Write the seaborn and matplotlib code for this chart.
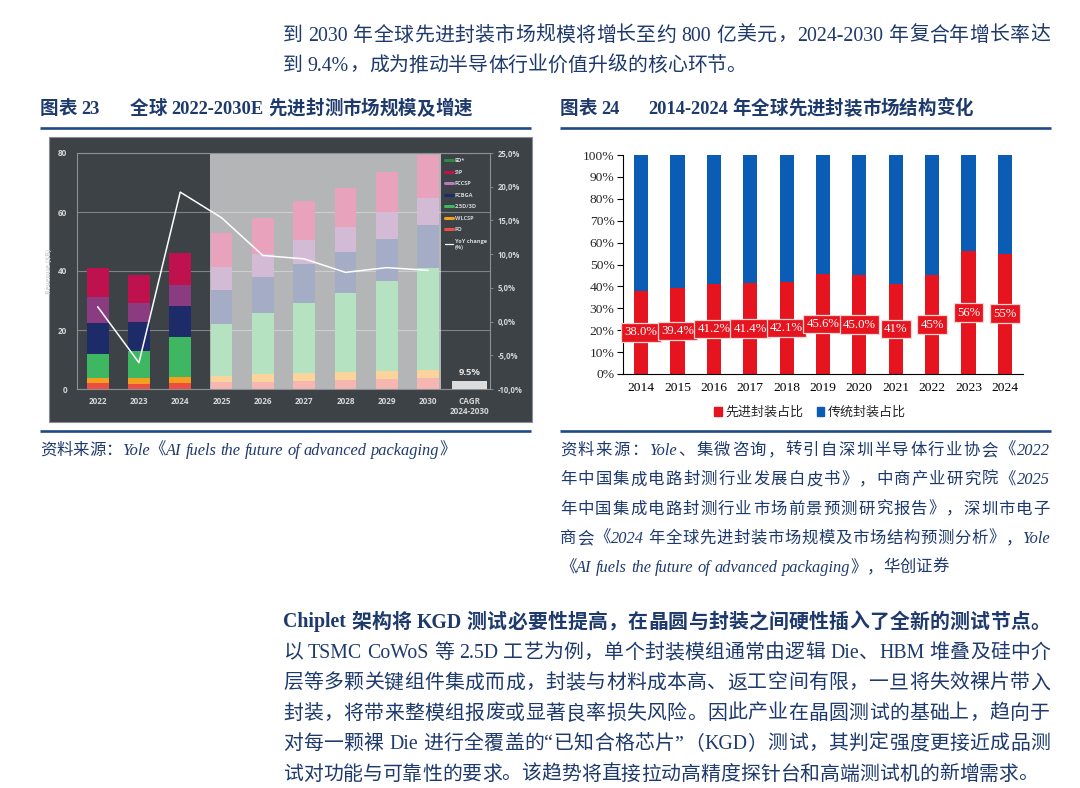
import numpy as np
import matplotlib
matplotlib.use("Agg")
import matplotlib.pyplot as plt
from matplotlib.lines import Line2D
from matplotlib.patches import Patch, Rectangle
import seaborn as sns

# ---- figure 23: global advanced packaging market, $B ----
MARKET_YEARS = ["2022", "2023", "2024", "2025", "2026", "2027", "2028", "2029", "2030"]
FO = [1.9, 1.8, 1.9, 2.3, 2.5, 2.7, 3.1, 3.4, 3.6]
WLCSP = [1.8, 1.8, 2.2, 2.1, 2.5, 2.6, 2.8, 2.8, 2.8]
PKG_25D_3D = [8.3, 9.4, 13.5, 17.8, 20.6, 23.8, 26.5, 30.5, 34.6]
FCBGA = [10.3, 9.6, 10.6, 11.5, 12.2, 13.2, 14.1, 14.2, 14.7]
FCCSP = [8.8, 6.5, 7.1, 7.5, 7.9, 8.3, 8.5, 9.1, 9.2]
SIP = [9.9, 9.6, 10.7, 11.6, 12.4, 13.0, 13.1, 13.5, 14.5]
YOY_CHANGE = [2.2, -6.1, 19.2, 15.4, 9.8, 9.3, 7.3, 8.0, 7.6]
CAGR_TEXT = "9.5%"
CAGR_BLOCK = [1.2]  # grey block height on the % axis
N_ACTUAL = 3  # 2022-2024 actual, rest forecast

# ---- figure 24: market structure, % ----
SHARE_YEARS = ["2014", "2015", "2016", "2017", "2018", "2019", "2020", "2021", "2022", "2023", "2024"]
ADVANCED_SHARE = [38.0, 39.4, 41.2, 41.4, 42.1, 45.6, 45.0, 41, 45, 56, 55]
TRADITIONAL_SHARE = [62.0, 60.6, 58.8, 58.6, 57.9, 54.4, 55.0, 59, 55, 44, 45]
SHARE_LABELS = ["38.0%", "39.4%", "41.2%", "41.4%", "42.1%", "45.6%", "45.0%", "41%", "45%", "56%", "55%"]

TOP_LINES = [
    "到 2030 年全球先进封装市场规模将增长至约 800 亿美元，2024-2030 年复合年增长率达",
    "到 9.4%，成为推动半导体行业价值升级的核心环节。",
]
SOURCE_LEFT = "资料来源：Yole《AI fuels the future of advanced packaging》"
SOURCE_RIGHT = [
    "资料来源：Yole、集微咨询，转引自深圳半导体行业协会《2022",
    "年中国集成电路封测行业发展白皮书》，中商产业研究院《2025",
    "年中国集成电路封测行业市场前景预测研究报告》，深圳市电子",
    "商会《2024 年全球先进封装市场规模及市场结构预测分析》，Yole",
    "《AI fuels the future of advanced packaging》，华创证券",
]
BODY_LINES = [
    "Chiplet 架构将 KGD 测试必要性提高，在晶圆与封装之间硬性插入了全新的测试节点。",
    "以 TSMC CoWoS 等 2.5D 工艺为例，单个封装模组通常由逻辑 Die、HBM 堆叠及硅中介",
    "层等多颗关键组件集成而成，封装与材料成本高、返工空间有限，一旦将失效裸片带入",
    "封装，将带来整模组报废或显著良率损失风险。因此产业在晶圆测试的基础上，趋向于",
    "对每一颗裸 Die 进行全覆盖的“已知合格芯片”（KGD）测试，其判定强度更接近成品测",
    "试对功能与可靠性的要求。该趋势将直接拉动高精度探针台和高端测试机的新增需求。",
]

NAVY = "#1e3a6d"
RULE = "#1f4a86"
DARK_BG = "#3c4246"
FRAME = "#8d9195"
LIGHT_TXT = "#d3d5d7"
RED = "#e5141f"
BLUE = "#0a5cb5"

sns.set_style("white")
plt.rcParams["font.family"] = ["Liberation Serif", "Noto Sans CJK SC"]
SANS = ["Open Sans", "DejaVu Sans"]

fig = plt.figure(figsize=(10.8, 7.88), dpi=100)
page = fig.add_axes([0, 0, 1, 1], zorder=0)
page.set_xlim(0, 1080)
page.set_ylim(788, 0)
page.axis("off")
rend = fig.canvas.get_renderer()


def put_text(text, x0, y, x1=None, size=14.3, **kw):
    """Lay a line out token by token; stretch it to x1 when given (justified)."""
    tokens, buf, buf_sp, sp = [], "", False, False
    for ch in text:
        if ch.isspace():
            if buf:
                tokens.append((buf, buf_sp))
                buf = ""
            sp = True
        elif ord(ch) > 0x2000:
            if buf:
                tokens.append((buf, buf_sp))
                buf = ""
            tokens.append((ch, sp))
            sp = False
        else:
            if not buf:
                buf_sp, sp = sp, False
            buf += ch
    if buf:
        tokens.append((buf, buf_sp))

    arts = [page.text(0, y, s, fontsize=size, color=NAVY, va="baseline", ha="left", **kw)
            for s, _ in tokens]
    widths = [a.get_window_extent(rend).width for a in arts]
    space_w = 0.25 * size * 100 / 72
    gaps = [space_w if s else 0.0 for _, s in tokens[1:]]
    extra = 0.0
    if x1 is not None and len(arts) > 1:
        extra = (x1 - x0 - sum(widths) - sum(gaps)) / (len(arts) - 1)
    x = x0
    for i, a in enumerate(arts):
        if i:
            x += gaps[i - 1] + extra
        a.set_x(x)
        x += widths[i]


# ---- page text ----
put_text(TOP_LINES[0], 283, 40.5, x1=1050)
put_text(TOP_LINES[1], 283, 70.5)

put_text("图表 23", 40, 114, size=13.3, weight="bold")
put_text("全球 2022-2030E 先进封测市场规模及增速", 130, 114, size=13.3, weight="bold")
put_text("图表 24", 560, 114, size=13.3, weight="bold")
put_text("2014-2024 年全球先进封装市场结构变化", 648, 114, size=13.3, weight="bold")

for x0, x1, y in [(40, 531, 128), (560, 1051, 128), (40, 531, 430.5), (560, 1051, 430.5)]:
    page.plot([x0, x1], [y, y], color=RULE, lw=1.9, solid_capstyle="butt")

put_text(SOURCE_LEFT, 40, 455, size=11.8, style="italic")
for i, line in enumerate(SOURCE_RIGHT):
    put_text(line, 560, 455 + i * 29.3, x1=1050 if i < 4 else None, size=11.8, style="italic")

for i, line in enumerate(BODY_LINES):
    put_text(line, 283, 627.5 + i * 30.4, x1=1050 if i < 5 else None,
             weight="bold" if i == 0 else "normal")

# ---- figure 23 ----
page.add_patch(Rectangle((49, 137), 483, 285, facecolor=DARK_BG, edgecolor="#8a8d90", lw=0.8))

ax = fig.add_axes([77 / 1080, 1 - 389 / 788, 413 / 1080, 236 / 788], zorder=2)
ax.set_facecolor("none")
ax.axvspan(2.72, 8.32, color="#b3b5b7", lw=0, zorder=0)

layers = [
    (FO, "#ec4e41", "#f6b6b1"),
    (WLCSP, "#f49f1f", "#fad49a"),
    (PKG_25D_3D, "#3fb662", "#b5e2c1"),
    (FCBGA, "#1d2c68", "#a4adc5"),
    (FCCSP, "#8b3c80", "#d3bbd6"),
    (SIP, "#c0114f", "#e9a2bb"),
]
cum = np.cumsum([l[0] for l in layers], axis=0)
for k in range(len(layers) - 1, -1, -1):
    _, hist_c, fcst_c = layers[k]
    cols = [hist_c] * N_ACTUAL + [fcst_c] * (len(MARKET_YEARS) - N_ACTUAL)
    sns.barplot(x=MARKET_YEARS, y=cum[k], hue=MARKET_YEARS, palette=cols, legend=False,
                saturation=1, width=0.53, errorbar=None, linewidth=0, ax=ax)

ax.set_xlim(-0.5, 9.5)
ax.set_ylim(0, 80)
ax.set_yticks([0, 20, 40, 60, 80])
ax.set_xticks(range(10))
ax.set_xticklabels(MARKET_YEARS + ["CAGR\n2024-2030"], family=SANS, weight="bold",
                   linespacing=1.05)
ax.set_yticklabels(["0", "20", "40", "60", "80"], family=SANS, weight="bold")
ax.tick_params(axis="both", length=0, labelsize=5.9, labelcolor=LIGHT_TXT)
ax.tick_params(axis="x", pad=6)
ax.tick_params(axis="y", pad=7)
ax.set_axisbelow(True)
ax.grid(axis="y", color="white", alpha=0.35, lw=0.8)
ax.set_xlabel("")
ax.set_ylabel("Revenue ($B)", fontsize=5.0, color=LIGHT_TXT, family=SANS, weight="bold")
ax.yaxis.set_label_coords(-24 / 413, 0.5)
for sp in ax.spines.values():
    sp.set_visible(True)
    sp.set_color(FRAME)
    sp.set_linewidth(0.8)

ax2 = ax.twinx()
ax2.set_zorder(3)
ax2.plot(range(len(YOY_CHANGE)), YOY_CHANGE, color="white", lw=1.1)
ax2.bar([9], CAGR_BLOCK, bottom=-10, width=0.85, color="#dcdcdc", lw=0)
ax2.text(9, -7.6, CAGR_TEXT, ha="center", va="center", fontsize=6.8, weight="bold",
         color="#e2e2e2", family=SANS)
ax2.set_ylim(-10, 25)
ticks = list(range(-10, 30, 5))
ax2.set_yticks(ticks)
ax2.set_yticklabels([f"{t:.1f}%".replace(".", ",") for t in ticks], family=SANS, weight="bold")
ax2.tick_params(axis="y", length=2.5, width=0.6, color=FRAME, pad=3, labelsize=5.6,
                labelcolor=LIGHT_TXT)
for sp in ax2.spines.values():
    sp.set_visible(False)

legend_handles = [Line2D([], [], color=c, lw=2.2) for c in
                  ["#2e8b3e", "#c0114f", "#b57bbd", "#1d2c68", "#3fb662", "#f49f1f", "#ec4e41"]]
legend_handles.append(Line2D([], [], color="white", lw=0.9))
leg = ax2.legend(legend_handles, ["ED*", "SiP", "FCCSP", "FCBGA", "2.5D/3D", "WLCSP", "FO",
                                  "YoY change\n(%)"],
                 loc="upper left", bbox_to_anchor=((445 - 77) / 413, 1 - 5 / 236),
                 frameon=False, handlelength=1.4, handletextpad=0.3, labelspacing=1.15,
                 borderaxespad=0, borderpad=0,
                 prop=dict(family=SANS, size=4.1, weight="bold"))
for t in leg.get_texts():
    t.set_color(LIGHT_TXT)

# ---- figure 24 ----
axr = fig.add_axes([623 / 1080, 1 - 374 / 788, 400 / 1080, 219 / 788], zorder=2)
total = np.add(ADVANCED_SHARE, TRADITIONAL_SHARE)
sns.barplot(x=SHARE_YEARS, y=total, color=BLUE, saturation=1, width=0.39, errorbar=None,
            linewidth=0, ax=axr)
sns.barplot(x=SHARE_YEARS, y=ADVANCED_SHARE, color=RED, saturation=1, width=0.39,
            errorbar=None, linewidth=0, ax=axr)
for i, (v, lab) in enumerate(zip(ADVANCED_SHARE, SHARE_LABELS)):
    axr.text(i, v / 2, lab, ha="center", va="center", fontsize=9.2, color="white", zorder=5,
             bbox=dict(boxstyle="square,pad=0.26", fc=RED, ec="#f3d6d6", lw=0.9))

axr.set_xlim(-0.5, 10.5)
axr.set_ylim(0, 100)
axr.set_yticks(range(0, 101, 10))
axr.set_yticklabels([f"{v}%" for v in range(0, 101, 10)])
axr.set_xticks(np.arange(-0.5, 11, 1), minor=True)
axr.tick_params(axis="x", which="major", length=0, labelsize=9.7, pad=6, colors="black")
axr.tick_params(axis="x", which="minor", length=4, width=0.8, color="black", direction="out")
axr.tick_params(axis="y", length=4, width=0.8, color="black", direction="out", labelsize=9.7,
                pad=2, left=True)
axr.set_xlabel("")
axr.set_ylabel("")
axr.spines["top"].set_visible(False)
axr.spines["right"].set_visible(False)
for s in ("left", "bottom"):
    axr.spines[s].set_color("black")
    axr.spines[s].set_linewidth(0.8)
axr.legend([Patch(color=RED), Patch(color=BLUE)], ["先进封装占比", "传统封装占比"],
           loc="center", bbox_to_anchor=((810 - 623) / 400, (374 - 413) / 219), ncol=2,
           frameon=False, handlelength=0.6, handleheight=0.6, handletextpad=0.25,
           columnspacing=1.0, fontsize=9.4, borderaxespad=0)

fig.savefig("out.png", dpi=100)
